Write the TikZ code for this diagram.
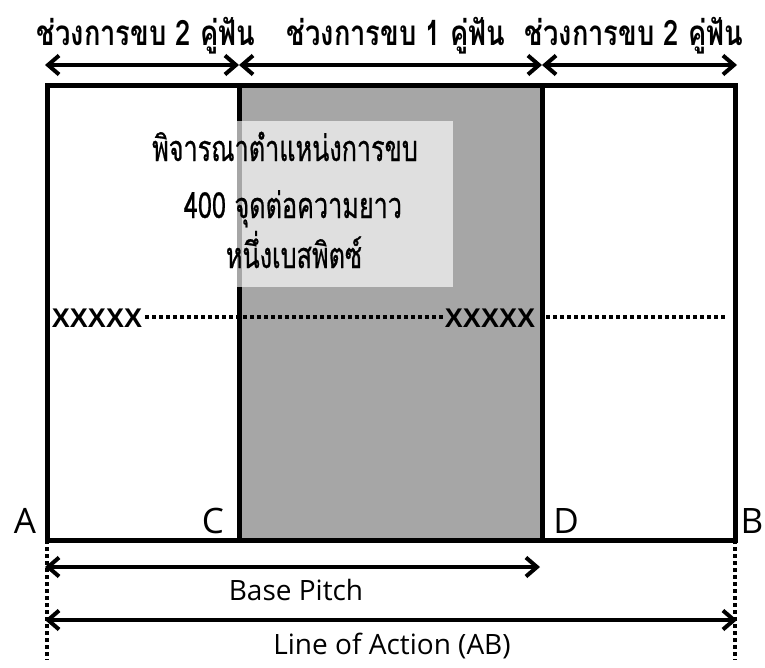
\documentclass[tikz,border=0pt]{standalone}
\usepackage{fontspec}
\usetikzlibrary{arrows.meta}
\newfontfamily\thaic[Script=Thai,FakeStretch=0.78]{Loma}
\newfontfamily\thaim[Script=Thai,FakeStretch=0.7,FakeBold=0.6]{Loma}
\newfontfamily\latin{Open Sans}
\newfontfamily\xfont{Liberation Sans}
\begin{document}
\begin{tikzpicture}[x=1pt,y=-1pt,
  frame/.style={line width=5pt},
  dim/.style={line width=4pt,{Straight Barb[length=11pt,width=19pt,line width=4pt]}-{Straight Barb[length=11pt,width=19pt,line width=4pt]}},
  dots/.style={line width=3.5pt,dash pattern=on 4pt off 3pt},
  toplab/.style={font=\thaic\bfseries\fontsize{35}{38}\selectfont,inner sep=0pt,anchor=base},
  midlab/.style={font=\thaim\fontsize{36}{40}\selectfont,inner sep=0pt,anchor=base},
  ptlab/.style={font=\latin\fontsize{35}{38}\selectfont,inner sep=0pt,anchor=base},
  xlab/.style={font=\xfont\bfseries\fontsize{27}{29}\selectfont,inner sep=0pt,anchor=base},
  botlab/.style={font=\latin\fontsize{28}{30}\selectfont,inner sep=0pt,anchor=base}]
\useasboundingbox[fill=white] (0,0) rectangle (765,667);
% corners
\coordinate (TL) at (47,85);
\coordinate (BL) at (47,540);
\coordinate (TR) at (735,85);
\coordinate (BR) at (735,540);
\coordinate (TC) at (239,85);
\coordinate (BC) at (239,540);
\coordinate (TD) at (542,85);
\coordinate (BD) at (542,540);
% gray zone
\fill[fill={rgb,255:red,166;green,166;blue,166}] (TC) rectangle (BD);
% frame
\draw[frame] (TL) rectangle (BR);
\draw[frame] (TC) -- (BC);
\draw[frame] (TD) -- (BD);
% translucent box
\fill[white,opacity=0.65] (237,121) rectangle (453,287);
\node[midlab] (t1) at (285,161) {พิจารณาตำแหน่งการขบ};
\node[midlab] (t2) at (293,218) {400 จุดต่อความยาว};
\node[midlab] (t3) at (294,268) {หนึ่งเบสพิตซ์};
% dotted line with XXXXX
\node[xlab] (x1) at (97,327) {XXXXX};
\node[xlab] (x2) at (490,327) {XXXXX};
\coordinate (xs) at (546,317);
\coordinate (xe) at (725,317);
\draw[dots] ([xshift=3pt]x1.east |- xs) -- ([xshift=-2pt]x2.west |- xs);
\draw[dots] (xs) -- (xe);
% top arrows
\coordinate (a0) at (45,65);
\coordinate (a1) at (239,65);
\coordinate (a2) at (542,65);
\coordinate (a3) at (737,65);
\draw[dim] (a0) -- (a1);
\draw[dim] (a1) -- (a2);
\draw[dim] (a2) -- (a3);
\node[toplab] (L1) at (146,45) {ช่วงการขบ 2 คู่ฟัน};
\node[toplab] (L2) at (396,45) {ช่วงการขบ 1 คู่ฟัน};
\node[toplab] (L3) at (634,45) {ช่วงการขบ 2 คู่ฟัน};
% point labels
\node[ptlab] (A) at (25,533) {A};
\node[ptlab] (C) at (213,533) {C};
\node[ptlab] (D) at (566,533) {D};
\node[ptlab] (B) at (752,533) {B};
% bottom dims
\coordinate (vA) at (47,660);
\coordinate (vB) at (735,660);
\draw[dots] (BL) -- (vA);
\draw[dots] (BR) -- (vB);
\coordinate (bp0) at (45,567);
\coordinate (bp1) at (540,567);
\draw[dim] (bp0) -- (bp1);
\node[botlab] (bp) at (296,600) {Base Pitch};
\coordinate (la0) at (45,620);
\coordinate (la1) at (737,620);
\draw[dim] (la0) -- (la1);
\node[botlab] (la) at (392,654) {Line of Action (AB)};
\end{tikzpicture}
\end{document}
